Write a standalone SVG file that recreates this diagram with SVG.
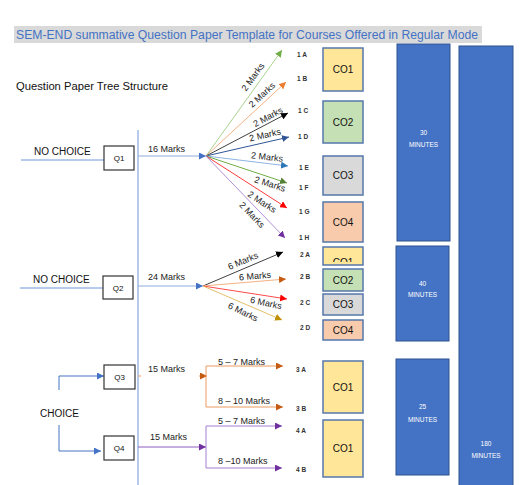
<svg xmlns="http://www.w3.org/2000/svg" width="520" height="485" viewBox="0 0 520 485">
<style>
text{font-family:"Liberation Sans",Arial,sans-serif;}
.t10{font-size:10px;fill:#111;}
.t9{font-size:9px;fill:#222;}
.lbl{font-size:6.5px;fill:#333;font-weight:bold;}
.q{fill:#fff;stroke:#333;stroke-width:1.2;}
.qt{font-size:8px;fill:#111;text-anchor:middle;}
.co{stroke:#5577aa;stroke-width:1.5;}
.cot{font-size:10px;fill:#111;text-anchor:middle;}
.bar{fill:#4472C4;stroke:#2F528F;stroke-width:1;}
.bt{font-size:6.5px;fill:#fff;text-anchor:middle;}
.ln{fill:none;stroke-width:1;}
.mk{font-size:9px;fill:#222;text-anchor:middle;}
</style>
<defs>
<marker id="m-blue" viewBox="0 0 10 10" refX="10" refY="5" markerWidth="7" markerHeight="7" markerUnits="userSpaceOnUse" orient="auto"><path d="M0,0 L10,5 L0,10 z" fill="#4472C4"/></marker>
<marker id="m-green" viewBox="0 0 10 10" refX="10" refY="5" markerWidth="7" markerHeight="7" markerUnits="userSpaceOnUse" orient="auto"><path d="M0,0 L10,5 L0,10 z" fill="#70AD47"/></marker>
<marker id="m-orange" viewBox="0 0 10 10" refX="10" refY="5" markerWidth="7" markerHeight="7" markerUnits="userSpaceOnUse" orient="auto"><path d="M0,0 L10,5 L0,10 z" fill="#ED7D31"/></marker>
<marker id="m-black" viewBox="0 0 10 10" refX="10" refY="5" markerWidth="7" markerHeight="7" markerUnits="userSpaceOnUse" orient="auto"><path d="M0,0 L10,5 L0,10 z" fill="#000"/></marker>
<marker id="m-dblue" viewBox="0 0 10 10" refX="10" refY="5" markerWidth="7" markerHeight="7" markerUnits="userSpaceOnUse" orient="auto"><path d="M0,0 L10,5 L0,10 z" fill="#2F5597"/></marker>
<marker id="m-lblue" viewBox="0 0 10 10" refX="10" refY="5" markerWidth="7" markerHeight="7" markerUnits="userSpaceOnUse" orient="auto"><path d="M0,0 L10,5 L0,10 z" fill="#2E75B6"/></marker>
<marker id="m-dgreen" viewBox="0 0 10 10" refX="10" refY="5" markerWidth="7" markerHeight="7" markerUnits="userSpaceOnUse" orient="auto"><path d="M0,0 L10,5 L0,10 z" fill="#548235"/></marker>
<marker id="m-red" viewBox="0 0 10 10" refX="10" refY="5" markerWidth="7" markerHeight="7" markerUnits="userSpaceOnUse" orient="auto"><path d="M0,0 L10,5 L0,10 z" fill="#FF0000"/></marker>
<marker id="m-purple" viewBox="0 0 10 10" refX="10" refY="5" markerWidth="7" markerHeight="7" markerUnits="userSpaceOnUse" orient="auto"><path d="M0,0 L10,5 L0,10 z" fill="#7030A0"/></marker>
<marker id="m-brown" viewBox="0 0 10 10" refX="10" refY="5" markerWidth="7" markerHeight="7" markerUnits="userSpaceOnUse" orient="auto"><path d="M0,0 L10,5 L0,10 z" fill="#C55A11"/></marker>
<marker id="m-gold" viewBox="0 0 10 10" refX="10" refY="5" markerWidth="7" markerHeight="7" markerUnits="userSpaceOnUse" orient="auto"><path d="M0,0 L10,5 L0,10 z" fill="#BF9000"/></marker>
<clipPath id="clipco"><rect x="324" y="248" width="38" height="14"/></clipPath>
</defs>
<rect width="520" height="485" fill="#fff"/>

<g id="title">
<rect x="14" y="26" width="468" height="17" fill="#D9D9D9"/>
<text x="16" y="39" font-size="12.5" fill="#4472C4" textLength="462" lengthAdjust="spacingAndGlyphs">SEM-END summative Question Paper Template for Courses Offered in Regular Mode</text>
</g>
<g id="subtitle"><text x="16" y="90" font-size="11" fill="#111" textLength="152" lengthAdjust="spacingAndGlyphs">Question Paper Tree Structure</text></g>

<g id="connectors">
<line class="ln" x1="138" y1="130" x2="138" y2="485" stroke="#6F97D8" stroke-width="1.2"/>
<line class="ln" x1="21" y1="160" x2="104" y2="160" stroke="#6F97D8" stroke-width="1.2"/>
<line class="ln" x1="20" y1="288" x2="103" y2="288" stroke="#6F97D8" stroke-width="1.2"/>
<line class="ln" x1="138" y1="156" x2="206" y2="156" stroke="#8FAADC" marker-end="url(#m-blue)"/>
<line class="ln" x1="138" y1="286" x2="203" y2="286" stroke="#8FAADC" marker-end="url(#m-blue)"/>
<!-- fan 1 -->
<line class="ln" x1="206" y1="156" x2="282" y2="50" stroke="#A9D18E" marker-end="url(#m-green)"/>
<line class="ln" x1="206" y1="156" x2="286" y2="82" stroke="#F4B183" marker-end="url(#m-orange)"/>
<line class="ln" x1="206" y1="156" x2="288" y2="113" stroke="#404040" marker-end="url(#m-black)"/>
<line class="ln" x1="206" y1="156" x2="289" y2="137" stroke="#2F5597" stroke-width="1.3" marker-end="url(#m-dblue)"/>
<line class="ln" x1="206" y1="156" x2="288" y2="166" stroke="#8DB4E2" marker-end="url(#m-lblue)"/>
<line class="ln" x1="206" y1="156" x2="287" y2="183" stroke="#70AD47" marker-end="url(#m-dgreen)"/>
<line class="ln" x1="206" y1="156" x2="287" y2="208" stroke="#FF3B3B" marker-end="url(#m-red)"/>
<line class="ln" x1="206" y1="156" x2="285" y2="238" stroke="#B18FD6" marker-end="url(#m-purple)"/>
<!-- fan 2 -->
<line class="ln" x1="203" y1="286" x2="283" y2="252" stroke="#404040" marker-end="url(#m-black)"/>
<line class="ln" x1="203" y1="286" x2="286" y2="279" stroke="#F4B183" marker-end="url(#m-brown)"/>
<line class="ln" x1="203" y1="286" x2="287" y2="299" stroke="#FF4A4A" marker-end="url(#m-red)"/>
<line class="ln" x1="203" y1="286" x2="282" y2="320" stroke="#E2C06A" marker-end="url(#m-gold)"/>
<!-- choice -->
<path class="ln" d="M59,390 V376 H104" stroke="#4472C4" marker-end="url(#m-blue)"/>
<path class="ln" d="M59,425 V451 H101" stroke="#4472C4" marker-end="url(#m-blue)"/>
<!-- Q3 branch -->
<path class="ln" d="M138,376 h3 M199,376 h8" stroke="#EE9A60" marker-end="url(#m-brown)"/>
<line class="ln" x1="206" y1="366" x2="206" y2="407" stroke="#EE9A60" stroke-width="1.2"/>
<line class="ln" x1="206" y1="366" x2="283" y2="366" stroke="#EE9A60" stroke-width="1.2" marker-end="url(#m-brown)"/>
<line class="ln" x1="206" y1="407" x2="283" y2="407" stroke="#EE9A60" stroke-width="1.2" marker-end="url(#m-brown)"/>
<!-- Q4 branch -->
<line class="ln" x1="138" y1="447" x2="206" y2="447" stroke="#8E5CC0" stroke-width="1.2" marker-end="url(#m-purple)"/>
<line class="ln" x1="206" y1="426" x2="206" y2="468" stroke="#A77FD0" stroke-width="1.2"/>
<line class="ln" x1="206" y1="426" x2="282" y2="426" stroke="#A77FD0" stroke-width="1.2" marker-end="url(#m-purple)"/>
<line class="ln" x1="206" y1="468" x2="282" y2="468" stroke="#A77FD0" stroke-width="1.2" marker-end="url(#m-purple)"/>
</g>

<g id="edge-labels">
<text class="t9" x="148" y="152">16 Marks</text>
<text class="t9" x="148" y="280">24 Marks</text>
<text class="t9" x="148" y="371.5">15 Marks</text>
<text class="t9" x="150" y="440">15 Marks</text>
<text class="mk" transform="translate(253,77) rotate(-54)" y="3">2 Marks</text>
<text class="mk" transform="translate(262,95) rotate(-43)" y="3">2 Marks</text>
<text class="mk" transform="translate(268,117) rotate(-28)" y="3">2 Marks</text>
<text class="mk" transform="translate(265,135) rotate(-13)" y="3">2 Marks</text>
<text class="mk" transform="translate(267,157) rotate(6)" y="3">2 Marks</text>
<text class="mk" transform="translate(270,184) rotate(18)" y="3">2 Marks</text>
<text class="mk" transform="translate(262,202) rotate(33)" y="3">2 Marks</text>
<text class="mk" transform="translate(252,215) rotate(46)" y="3">2 Marks</text>
<text class="mk" transform="translate(243,261) rotate(-23)" y="3">6 Marks</text>
<text class="mk" transform="translate(255,276) rotate(-5)" y="3">6 Marks</text>
<text class="mk" transform="translate(266,303) rotate(12)" y="3">6 Marks</text>
<text class="mk" transform="translate(243,312) rotate(26)" y="3">6 Marks</text>
<text class="t9" x="218" y="364.5">5 – 7 Marks</text>
<text class="t9" x="218" y="404">8 – 10 Marks</text>
<text class="t9" x="218" y="424">5 – 7 Marks</text>
<text class="t9" x="218" y="464">8 –10 Marks</text>
</g>

<g id="no-choice-1"><text class="t10" x="34" y="155">NO CHOICE</text></g>
<g id="no-choice-2"><text class="t10" x="33" y="283">NO CHOICE</text></g>
<g id="choice"><text class="t10" x="40" y="417">CHOICE</text></g>

<g id="q1"><rect class="q" x="104" y="146" width="30" height="24"/><text class="qt" x="119" y="161">Q1</text></g>
<g id="q2"><rect class="q" x="103" y="276" width="30" height="23"/><text class="qt" x="118" y="290.5">Q2</text></g>
<g id="q3"><rect class="q" x="104" y="365" width="31" height="24"/><text class="qt" x="119.5" y="380">Q3</text></g>
<g id="q4"><rect class="q" x="104" y="436" width="30" height="24"/><text class="qt" x="119" y="451">Q4</text></g>

<g id="leaf-labels">
<text class="lbl" x="297" y="56.5">1 A</text>
<text class="lbl" x="297" y="81">1 B</text>
<text class="lbl" x="298" y="113">1 C</text>
<text class="lbl" x="298" y="139">1 D</text>
<text class="lbl" x="299" y="170">1 E</text>
<text class="lbl" x="299" y="190">1 F</text>
<text class="lbl" x="299" y="214">1 G</text>
<text class="lbl" x="299" y="239.5">1 H</text>
<text class="lbl" x="300" y="257">2 A</text>
<text class="lbl" x="300" y="279">2 B</text>
<text class="lbl" x="300" y="305">2 C</text>
<text class="lbl" x="300" y="330">2 D</text>
<text class="lbl" x="296" y="372">3 A</text>
<text class="lbl" x="296" y="411">3 B</text>
<text class="lbl" x="296" y="433">4 A</text>
<text class="lbl" x="296" y="472">4 B</text>
</g>

<g id="co-1-1"><rect class="co" x="323" y="48" width="40" height="43" fill="#FFE699"/><text class="cot" x="343" y="73">CO1</text></g>
<g id="co-1-2"><rect class="co" x="323" y="101" width="40" height="42" fill="#C5E0B4"/><text class="cot" x="343" y="125.5">CO2</text></g>
<g id="co-1-3"><rect class="co" x="323" y="156" width="40" height="39" fill="#D9D9D9"/><text class="cot" x="343" y="179">CO3</text></g>
<g id="co-1-4"><rect class="co" x="323" y="202" width="40" height="40" fill="#F8CBAD"/><text class="cot" x="343" y="225.5">CO4</text></g>
<g id="co-2-1"><rect class="co" x="323" y="247" width="40" height="18" fill="#FFE699"/><text class="cot" x="343" y="266" clip-path="url(#clipco)">CO1</text></g>
<g id="co-2-2"><rect class="co" x="323" y="269" width="40" height="22" fill="#C5E0B4"/><text class="cot" x="343" y="283.5">CO2</text></g>
<g id="co-2-3"><rect class="co" x="323" y="294" width="40" height="21" fill="#D9D9D9"/><text class="cot" x="343" y="308">CO3</text></g>
<g id="co-2-4"><rect class="co" x="323" y="320" width="40" height="20" fill="#F8CBAD"/><text class="cot" x="343" y="333.5">CO4</text></g>
<g id="co-3"><rect class="co" x="323" y="361" width="40" height="52" fill="#FFE699"/><text class="cot" x="343" y="390.5">CO1</text></g>
<g id="co-4"><rect class="co" x="323" y="420" width="40" height="57" fill="#FFE699"/><text class="cot" x="343" y="452">CO1</text></g>

<g id="bar-30"><rect class="bar" x="397" y="44" width="53" height="197"/><text class="bt" x="423.5" y="135">30</text><text class="bt" x="423.5" y="147">MINUTES</text></g>
<g id="bar-40"><rect class="bar" x="396" y="246" width="53" height="95"/><text class="bt" x="422.5" y="285.5">40</text><text class="bt" x="422.5" y="297">MINUTES</text></g>
<g id="bar-25"><rect class="bar" x="396" y="359" width="53" height="116"/><text class="bt" x="422.5" y="409">25</text><text class="bt" x="422.5" y="421.5">MINUTES</text></g>
<g id="bar-180"><rect class="bar" x="459" y="46" width="54" height="445"/><text class="bt" x="486" y="445.5">180</text><text class="bt" x="486" y="458">MINUTES</text></g>
</svg>
